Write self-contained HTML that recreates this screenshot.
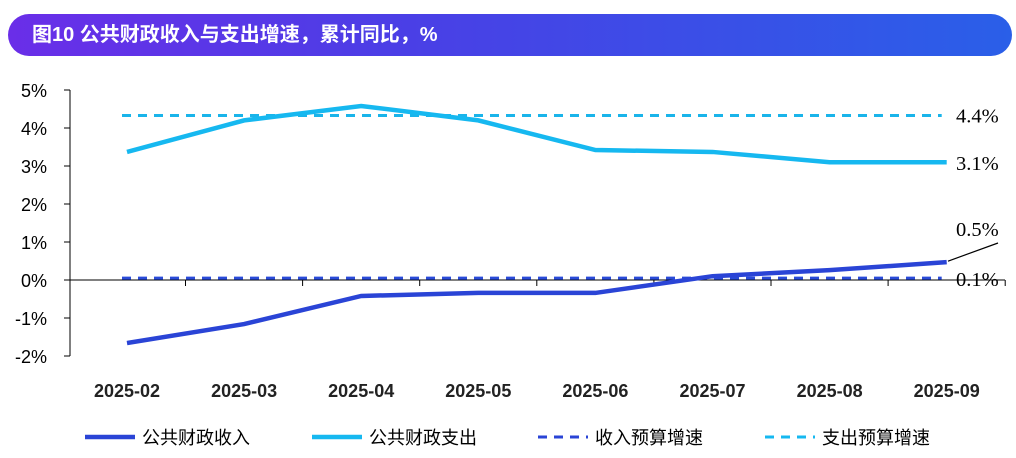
<!DOCTYPE html>
<html><head><meta charset="utf-8">
<style>
body{margin:0;width:1016px;height:458px;background:#fff;font-family:"Liberation Sans","Noto Sans CJK SC",sans-serif;overflow:hidden;position:relative}
#title{position:absolute;left:8px;top:14px;width:1004px;height:42px;border-radius:21px;background:linear-gradient(90deg,#6a2ee8,#4a3fe6 40%,#2a5fe8);color:#fff;font-weight:bold;font-size:20px;line-height:42px;box-sizing:border-box;padding-left:24px}
</style></head><body>
<div id="title">图10 公共财政收入与支出增速，累计同比，%</div>
<svg id="c" width="1016" height="458" style="position:absolute;left:0;top:0"></svg>
<script>
const categories=["2025-02","2025-03","2025-04","2025-05","2025-06","2025-07","2025-08","2025-09"];
const revenue=[-1.66,-1.16,-0.42,-0.34,-0.34,0.1,0.26,0.47];
const expenditure=[3.37,4.2,4.58,4.2,3.42,3.37,3.1,3.1];
const revBudget=[0.05];
const expBudget=[4.33];
const yTicks=[5,4,3,2,1,0,-1,-2];
const endLabels=["4.4%","3.1%","0.5%","0.1%"];
const NS="http://www.w3.org/2000/svg";
const svg=document.getElementById('c');
const x=i=>127+i*117.1;
const y=v=>280-v*38;
function mk(t,a,txt){const e=document.createElementNS(NS,t);for(const k in a)e.setAttribute(k,a[k]);if(txt!==undefined)e.textContent=txt;svg.appendChild(e);return e;}
const F='"Liberation Sans","Noto Sans CJK SC",sans-serif';
let ax=mk('line',{x1:70,x2:70,y1:y(5),y2:y(-2),stroke:'#000','stroke-width':1});

yTicks.forEach(v=>{
 let t=mk('line',{x1:64,x2:70,y1:y(v),y2:y(v),stroke:'#000'});
 
 let l=mk('text',{x:47,y:y(v)+7,'text-anchor':'end','font-size':18,'font-family':F},v+'%');
 
});
let xa=mk('line',{x1:70,x2:1005,y1:y(0),y2:y(0),stroke:'#000'});

categories.forEach((c,i)=>{
 let t=mk('line',{x1:x(i)+58.5,x2:x(i)+58.5,y1:y(0),y2:y(0)+6,stroke:'#000'});
 
 let l=mk('text',{x:x(i),y:397,'text-anchor':'middle','font-size':18,'font-weight':'bold','font-family':F,fill:'#222'},c);
 
});
let b1=mk('line',{x1:x(0)-5,x2:x(7)-5,y1:y(expBudget[0]),y2:y(expBudget[0]),stroke:'#1ab4ea','stroke-width':3,'stroke-dasharray':'9,7'});

let b2=mk('line',{x1:x(0)-5,x2:x(7)-5,y1:y(revBudget[0]),y2:y(revBudget[0]),stroke:'#2a4bd8','stroke-width':3,'stroke-dasharray':'9,7'});

let p1=mk('polyline',{points:expenditure.map((v,i)=>x(i)+','+y(v)).join(' '),fill:'none',stroke:'#16b8f0','stroke-width':4.5});

let p2=mk('polyline',{points:revenue.map((v,i)=>x(i)+','+y(v)).join(' '),fill:'none',stroke:'#2a44d6','stroke-width':4.5});

const ly=[y(expBudget[0])+7,y(expenditure[7])+8,236,286];
endLabels.forEach((s,i)=>{
 let l=mk('text',{x:956,y:ly[i],'font-size':20.5,'font-family':'"Liberation Serif",serif'},s);
 
});
let ld=mk('line',{x1:948,y1:y(revenue[7])-1,x2:998,y2:243,stroke:'#000','stroke-width':1.2});

const legend=[["公共财政收入",'#2a44d6',null,85],["公共财政支出",'#16b8f0',null,312],["收入预算增速",'#2a44d6','9,7',538],["支出预算增速",'#16b8f0','9,7',765]];
legend.forEach(([n,c,d,lx])=>{
 let a={x1:lx,x2:lx+50,y1:437,y2:437,stroke:c,'stroke-width':d?3:4.5};if(d)a['stroke-dasharray']=d;
 let l=mk('line',a);
 let t=mk('text',{x:lx+57,y:444,'font-size':18,'font-family':F},n);
 
});
</script>
</body></html>
